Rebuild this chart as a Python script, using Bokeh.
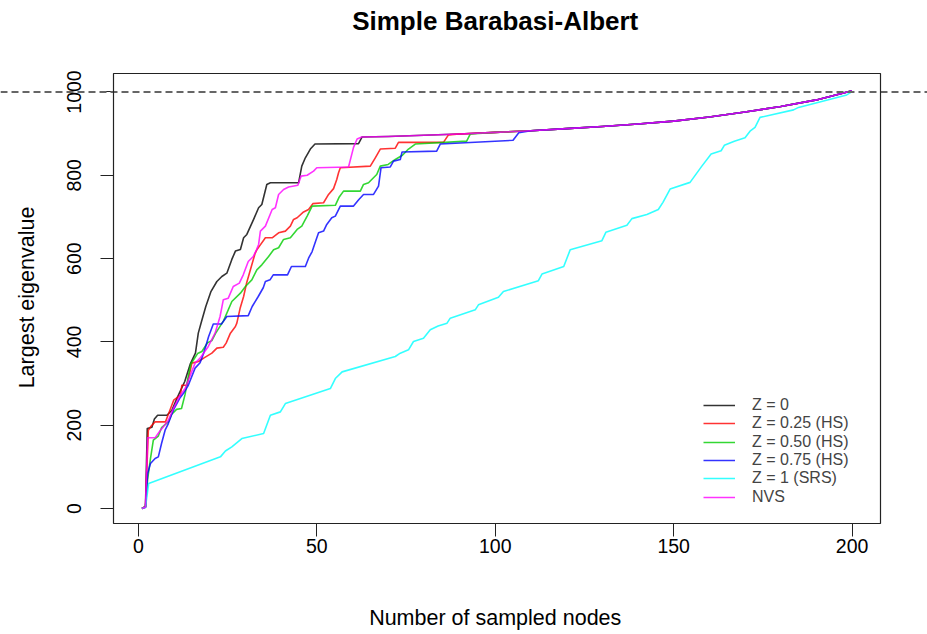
import math
from bokeh.plotting import figure
from bokeh.models import (Range1d, FixedTicker, Span, BoxAnnotation, Legend, LegendItem, Label)
from bokeh.embed import file_html
from bokeh.resources import INLINE

title_text = "Simple Barabasi-Albert"
x_title = "Number of sampled nodes"
y_title = "Largest eigenvalue"
x_ticks = [0, 50, 100, 150, 200]
y_ticks = [0, 200, 400, 600, 800, 1000]
reference_value = 1000

labels = ["Z = 0", "Z = 0.25 (HS)", "Z = 0.50 (HS)", "Z = 0.75 (HS)", "Z = 1 (SRS)", "NVS"]
colors = ["black", "red", "#00CD00", "blue", "cyan", "magenta"]

# common upper path (shared by all non-SRS designs once they converge)
upper_x = [100, 110, 120, 130, 140, 150, 160, 170, 180, 190, 200]
upper_y = [903, 907, 912, 917, 923, 930, 940, 952, 965, 981, 1003]

z0_x = [1, 2, 2.5, 3.8, 4.5, 5.4, 8, 9.4, 11, 13, 14.6, 16, 16.8, 17.7, 18.9, 20.3, 22, 23.4, 24.8,
        26.2, 27.2, 28.6, 29.5, 30.4, 32.3, 33.7, 34.6, 36, 37, 44.9, 45.8, 46.8, 48.2, 49.5, 61.7,
        62.7, 70, 80, 90] + upper_x
z0_y = [0, 5, 192, 195, 215, 224, 224, 236, 268, 305, 348, 373, 421, 449, 485, 520, 545, 557, 565,
        598, 618, 622, 650, 658, 694, 722, 730, 778, 782, 782, 822, 842, 863, 875, 876,
        892, 893, 896, 899] + upper_y

z25_x = [1, 2, 2.8, 3.6, 4.7, 7.6, 8.5, 9.9, 11.8, 12.2, 13.6, 14.6, 15, 16.9, 18.3, 20.6, 22, 23.8,
         24.6, 25.8, 27.2, 27.6, 28.5, 29.5, 30.3, 31.4, 32.7, 33.2, 35.6, 37.5, 39.3, 41.2, 42.6,
         43.5, 44.5, 46.3, 47.7, 48.9, 51.9, 53.3, 54.7, 55.6, 56.1, 56.6, 65, 66.4, 67.8, 72, 72.9,
         85.5, 86.9, 90] + upper_x
z25_y = [0, 5, 188, 198, 208, 208, 228, 260, 272, 296, 296, 333, 349, 353, 361, 373, 385, 387,
         397, 421, 437, 445, 480, 509, 540, 573, 612, 621, 650, 650, 662, 666, 678,
         694, 698, 712, 718, 732, 734, 754, 768, 790, 806, 818, 822, 842, 863, 865, 879,
         879, 897, 899] + upper_y

z50_x = [1, 2, 2.6, 3.4, 4.2, 5.6, 6.5, 8.4, 9.3, 10.7, 12.1, 13.1, 14, 14.7, 16.6, 17.8, 19.4, 20.6,
         21.6, 23.9, 26.2, 28.6, 30, 31.8, 33.2, 34.6, 36.5, 37.9, 39.3, 40.7, 42.6, 44.5, 45.8,
         47.3, 48.7, 55.2, 56.3, 57.5, 62.2, 63.1, 64.5, 66.8, 67.8, 70, 72, 74, 75.7, 77.6, 92, 93] + upper_x
z50_y = [0, 3, 70, 120, 164, 174, 194, 208, 226, 238, 240, 274, 318, 347, 372, 377, 398, 403,
         420, 451, 497, 517, 533, 549, 573, 585, 605, 621, 626, 646, 650, 670, 678,
         702, 726, 728, 748, 762, 762, 778, 782, 802, 822, 826, 838, 848, 863, 875, 882, 899] + upper_y

z75_x = [1, 2, 2.6, 3.4, 4.7, 5.6, 6.5, 7.5, 8.4, 9.8, 11.7, 12.6, 14, 15.9, 17.3, 18.3, 19.7, 21,
         23.3, 24.8, 30.8, 31.9, 33.6, 35, 35.6, 36.9, 37.8, 41.8, 42.9, 46.8, 47.7, 48.7, 49.6,
         50.5, 51.9, 52.8, 54.2, 55.2, 56.6, 60.3, 61.8, 63.1, 65.9, 67.3, 68, 70.6, 71.5, 73.4,
         73.9, 83.6, 84.6, 105, 106.6, 110] + upper_x[2:]
z75_y = [0, 3, 84, 108, 120, 124, 156, 188, 204, 236, 266, 276, 296, 337, 350, 373, 413, 443,
         443, 461, 463, 485, 509, 530, 545, 549, 561, 561, 581, 581, 601, 617, 640,
         662, 666, 682, 698, 702, 726, 726, 742, 754, 754, 774, 818, 820, 834, 838,
         856, 858, 875, 884, 902, 907] + upper_y[2:]

z1_x = [1, 2, 2.9, 23, 24.4, 26.2, 29, 35.1, 37, 39.8, 41.2, 53.8, 55.2, 57.1, 72, 73.4, 75.7, 77.1,
        79.9, 81.8, 84, 86.5, 87.4, 94.4, 95.3, 100.9, 102.3, 112.1, 113.1, 119.2, 121, 129.9, 131,
        136.9, 138.3, 142.5, 145.7, 147, 149, 154.6, 157.9, 160.5, 163.3, 164.2, 167, 170, 171.4,
        172.8, 174.2, 183.6, 185, 198.5, 200]
z1_y = [0, 3, 60, 124, 138, 148, 168, 180, 224, 232, 252, 288, 312, 328, 365, 373, 381, 401,
        409, 429, 438, 445, 457, 477, 489, 507, 521, 547, 563, 581, 621, 643, 663,
        680, 696, 706, 718, 735, 767, 783, 822, 851, 859, 872, 882, 890, 906,
        915, 939, 957, 963, 993, 1001]

nvs_x = [1, 2, 2.6, 4.7, 6.2, 7, 8.4, 9.8, 11.7, 13.1, 15.9, 17.3, 19.6, 21.5, 22.9, 23.8, 25.2, 26.6,
         28.3, 29.4, 30.8, 32.2, 33.1, 33.7, 34.2, 35.6, 37.5, 38.4, 39.3, 40.7, 42.1, 44.7, 45.6,
         47.3, 49.1, 50, 58.9, 60.3, 61.3, 62.6, 70, 80, 90] + upper_x
nvs_y = [0, 3, 170, 170, 188, 196, 212, 240, 272, 288, 349, 361, 389, 421, 461, 501, 505, 533,
         541, 561, 593, 605, 621, 634, 666, 678, 718, 722, 754, 766, 772, 776, 798,
         800, 810, 818, 820, 867, 887, 892, 893, 896, 899] + upper_y

series_x = [z0_x, z25_x, z50_x, z75_x, z1_x, nvs_x]
series_y = [z0_y, z25_y, z50_y, z75_y, z1_y, nvs_y]

FONT = "Liberation Sans"
W, H = 927, 634

# The frame covers the whole canvas; the R-style plot box sits inside it.
box_left, box_right = -6.96, 207.96
box_bottom, box_top = -36.0, 1044.4
box_px = (113, 880, 73, 523)          # left, right, top, bottom in pixels
sx = (box_px[1] - box_px[0]) / (box_right - box_left)
sy = (box_px[3] - box_px[2]) / (box_top - box_bottom)
x0 = box_left - box_px[0] / sx
x1 = x0 + W / sx
y1 = box_top + box_px[2] / sy
y0 = y1 - H / sy

def ydata(py):
    return y1 - py / sy

def xdata(px):
    return x0 + px / sx

p = figure(width=W, height=H, x_range=Range1d(x0, x1), y_range=Range1d(y0, y1),
           min_border=0, min_border_left=0, min_border_right=0, min_border_top=0, min_border_bottom=0,
           toolbar_location=None, output_backend="svg")
p.grid.visible = False
p.outline_line_color = None
p.background_fill_color = "white"
p.border_fill_color = "white"
p.title.visible = False

# x axis, drawn along the bottom of the box
xa = p.xaxis[0]
xa.fixed_location = box_bottom
xa.ticker = FixedTicker(ticks=x_ticks)
xa.bounds = (x_ticks[0], x_ticks[-1])
xa.major_tick_out = 13
xa.major_tick_in = 0
xa.minor_tick_out = 0
xa.minor_tick_in = 0
xa.major_label_standoff = 2
xa.major_label_text_font = FONT
xa.major_label_text_font_size = "19.5px"
xa.major_label_text_color = "black"
xa.axis_line_color = "#222222"
xa.major_tick_line_color = "#222222"

# y axis, drawn along the left of the box
ya = p.yaxis[0]
ya.fixed_location = box_left
ya.ticker = FixedTicker(ticks=y_ticks)
ya.bounds = (y_ticks[0], y_ticks[-1])
ya.major_label_orientation = "vertical"
ya.major_tick_out = 13
ya.major_tick_in = 0
ya.minor_tick_out = 0
ya.minor_tick_in = 0
ya.major_label_standoff = 19
ya.major_label_text_font = FONT
ya.major_label_text_font_size = "19.5px"
ya.major_label_text_color = "black"
ya.axis_line_color = "#222222"
ya.major_tick_line_color = "#222222"

# plot box
p.add_layout(BoxAnnotation(left=box_left, right=box_right, bottom=box_bottom, top=box_top,
                           fill_alpha=0, line_color="#222222", line_alpha=1.0, line_width=1.2,
                           level="overlay"))

renderers = []
for xs, ys, c in zip(series_x, series_y, colors):
    r = p.line(xs, ys, line_color=c, line_width=1.6, line_alpha=0.8, line_join="round")
    renderers.append(r)

p.add_layout(Span(location=reference_value, dimension="width", line_color="#666666",
                  line_width=2, line_dash="7 4"))

# titles
mid_x = (x_ticks[0] + x_ticks[-1]) / 2
p.add_layout(Label(x=mid_x, y=ydata(20), text=title_text, text_align="center",
                   text_baseline="middle", text_font=FONT, text_font_size="26px",
                   text_font_style="bold", text_color="black"))
p.add_layout(Label(x=mid_x, y=ydata(617), text=x_title, text_align="center",
                   text_baseline="middle", text_font=FONT, text_font_size="21.5px",
                   text_color="black"))
p.add_layout(Label(x=xdata(26), y=ydata(297), text=y_title, angle=math.pi / 2,
                   text_align="center", text_baseline="middle", text_font=FONT,
                   text_font_size="21.5px", text_color="black"))

# legend rows (one small legend per row so the row pitch matches the reference)
row_centres = [405, 423.3, 441.7, 460, 478.3, 496.7]
for lab, r, yc in zip(labels, renderers, row_centres):
    lg = Legend(items=[LegendItem(label=lab, renderers=[r])],
                location=(703, int(round(H - (yc + 9)))),
                padding=0, margin=0, spacing=0,
                glyph_width=32, glyph_height=18, label_height=18, label_standoff=17,
                label_text_font=FONT, label_text_font_size="16px",
                border_line_color=None, background_fill_alpha=0)
    p.add_layout(lg)

open("out.html", "w").write(file_html(p, INLINE))
